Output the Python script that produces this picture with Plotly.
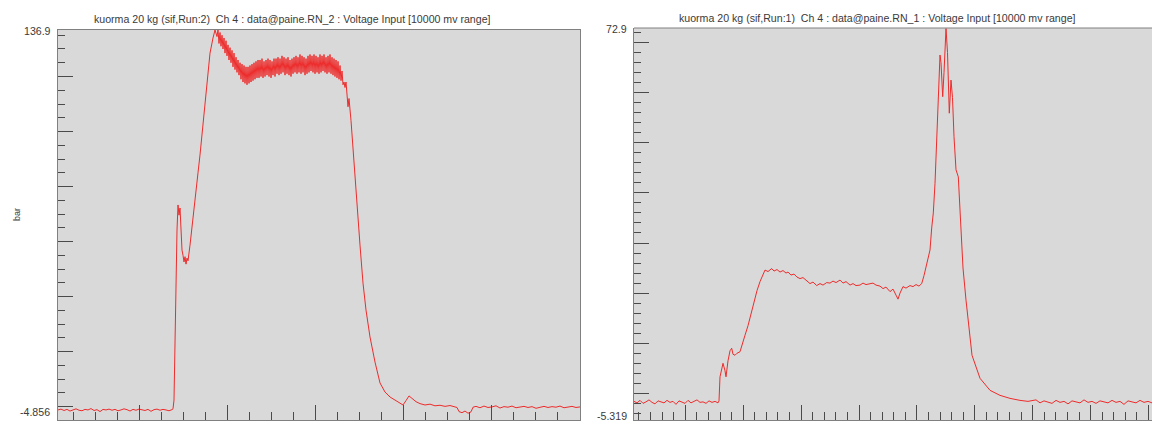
import plotly.graph_objects as go

# ---------------- data: left panel (Run 2), x in samples, y in bar ----------------
left_t = ([0, 3, 6, 9, 12, 15, 18, 21, 24, 27, 30, 33, 36, 39, 42, 45, 48, 51, 54, 57,
           60, 63, 66, 69, 72, 75, 78, 81, 84, 87, 90, 93, 96, 99, 102, 105, 108, 111, 114]
          + [115, 116, 117, 118, 119, 120, 121, 122, 123, 124, 125, 126, 127, 128, 129, 130,
             132, 135, 138, 140, 142, 144, 147, 150, 152, 155, 157, 159]
          + [160, 161, 162, 163, 164, 165, 166, 167, 168, 169, 170, 171, 172, 173, 174, 175,
             176, 177, 178, 179, 180, 181, 182, 183, 184, 185, 186, 187, 188, 189, 190, 191,
             192, 193, 194, 195, 196, 197, 198, 199, 200, 201, 202, 203, 204, 205, 206, 207,
             208, 209, 210, 211, 212, 213, 214, 215, 216, 217, 218, 219, 220, 221, 222, 223,
             224, 225, 226, 227, 228, 229, 230, 231, 232, 233, 234, 235, 236, 237, 238, 239,
             240, 241, 242, 243, 244, 245, 246, 247, 248, 249, 250, 251, 252, 253, 254, 255,
             256, 257, 258, 259, 260, 261, 262, 263, 264, 265, 266, 267, 268, 269, 270, 271,
             272, 273, 274, 275, 276, 277, 278, 279, 280, 281, 282, 283, 284, 285, 286]
          + [287, 288, 290, 291, 293, 295, 298, 300, 302, 305, 308, 312, 317, 322, 327, 332,
             337, 342, 345, 348, 351, 354, 358, 362, 367, 372, 377, 382, 387, 392, 397, 399,
             401, 404, 407, 410, 413, 415, 418]
          + [422, 426, 430, 434, 438, 442, 446, 450, 454, 458, 462, 466, 470, 474, 478, 482,
             486, 490, 494, 498, 502, 506, 510, 514, 518, 522])
left_v = ([-1.2, -0.9, -1.4, -1.0, -1.6, -1.1, -0.8, -1.3, -1.5, -1.0, -1.2, -0.7, -1.4,
           -1.1, -1.8, -1.0, -1.2, -0.9, -1.3, -1.0, -1.5, -1.2, -0.8, -1.1, -1.6, -1.0,
           -1.3, -0.9, -1.2, -1.4, -1.0, -1.7, -1.1, -0.9, -1.3, -1.0, -1.2, -1.5, -1.1]
          + [-0.8, 2.4, 27.8, 49.7, 64.2, 73.3, 69.6, 72.2, 64.2, 56.9, 55.0, 52.6, 54.5,
             51.8, 54.0, 53.0, 58.7, 67.8, 78.7, 85.0, 91.5, 99.0, 112.5, 122.0, 128.5,
             134.0, 136.9, 134.5]
          + [137.0, 132.0, 136.0, 131.0, 135.0, 130.0, 134.0, 128.5, 133.0, 127.5, 131.5,
             126.0, 130.5, 125.0, 129.5, 123.5, 128.5, 122.5, 127.0, 121.5, 126.0, 120.5,
             125.0, 119.0, 124.5, 118.0, 124.0, 117.5, 123.5, 117.0, 123.5, 117.5, 124.0,
             118.0, 124.5, 118.5, 125.0, 119.0, 125.5, 119.5, 126.0, 119.5, 126.0, 120.0,
             126.5, 119.5, 125.5, 120.0, 126.0, 120.5, 126.5, 120.0, 126.0, 119.5, 125.5,
             120.5, 126.5, 120.0, 126.5, 121.0, 127.0, 120.5, 126.5, 121.0, 127.5, 121.5,
             127.0, 120.5, 126.5, 121.0, 127.0, 120.5, 126.0, 120.0, 126.5, 121.0, 127.0,
             121.5, 127.5, 121.0, 127.0, 121.5, 128.0, 121.0, 127.5, 121.5, 127.0, 120.5,
             126.5, 121.0, 127.5, 121.5, 128.0, 122.0, 127.5, 121.5, 128.0, 121.0, 127.5,
             121.5, 127.0, 121.0, 128.0, 121.5, 127.5, 122.0, 128.0, 121.5, 127.0, 121.0,
             127.5, 121.5, 128.0, 121.0, 127.0, 120.5, 126.5, 120.0, 126.0, 119.5, 125.5,
             119.0, 124.0, 118.5, 122.0, 117.0, 118.0]
          + [116.0, 118.0, 109.0, 112.0, 104.0, 93.3, 78.7, 68.9, 58.7, 44.9, 35.1, 25.3,
             16.2, 8.6, 5.3, 3.5, 2.4, 1.3, 0.6, 2.2, 3.9, 3.0, 1.8, 1.1, 0.6, 0.9, 0.3,
             0.5, 0.1, 0.4, 0.0, -0.3, -1.8, -2.2, -1.6, -2.4, -1.9, -0.2, 0.1]
          + [-0.4, 0.2, -0.3, -0.1, 0.3, -0.5, 0.0, -0.2, 0.2, -0.4, -0.1, 0.1, -0.3, 0.0,
             -0.6, -0.2, 0.1, -0.3, 0.0, -0.2, 0.2, -0.4, -0.1, 0.1, -0.3, -0.1])

# ---------------- data: right panel (Run 1) ----------------
right_t = [0, 3, 6, 9, 12, 15, 18, 21, 24, 27, 30, 33, 36, 39, 42, 45, 48, 51, 54, 57,
           60, 63, 66, 69, 72, 75, 78, 81, 84,
           85, 86, 88, 89, 91, 92, 94, 96, 97.7, 99, 101, 103, 106, 108, 111, 114, 116, 118,
           121, 123, 126, 128, 131, 134, 137.7, 140, 143, 146, 149, 152, 154, 157, 160, 163,
           166, 169, 172, 176, 179, 182.7, 186, 189, 192.7, 196, 199, 202, 206, 209, 212,
           216, 219, 222, 226, 229, 232, 236, 239, 242, 246, 249, 252, 256, 259, 262, 264,
           266, 269, 272, 276, 279, 282, 285, 287.7, 290, 292.7, 296, 297.7, 299.3, 301,
           303.3, 304.5, 306, 307, 308.7, 310, 312, 313.5, 315.3, 317, 318.5, 320, 322,
           324.3, 326.7, 329, 332, 338, 346, 356, 366, 376, 386, 394, 402, 406, 410, 414,
           418, 422, 426, 430, 434, 438, 442, 446, 450, 454, 458, 462, 466, 470, 474, 478,
           482, 486, 490, 494, 498, 502, 506, 510, 514, 518]
right_v = [-1.6, -1.9, -1.4, -2.0, -1.7, -1.3, -1.8, -2.1, -1.5, -1.7, -1.9, -1.4, -1.8,
           -1.6, -2.2, -1.5, -1.7, -2.0, -1.4, -1.9, -1.6, -1.3, -1.8, -1.7, -2.0, -1.5,
           -1.8, -1.6, -1.9,
           -1.5, 3.3, 5.0, 6.0, 4.5, 3.3, 6.5, 8.5, 9.0, 7.8, 7.6, 8.0, 8.3, 9.8, 11.6, 13.5,
           15.0, 16.5, 19.3, 20.5, 22.3, 23.3, 24.6, 24.3, 24.9, 24.4, 24.7, 24.2, 24.5,
           24.0, 24.2, 23.6, 23.8, 23.2, 22.9, 23.1, 22.5, 21.9, 22.2, 21.5, 21.9, 21.6,
           22.1, 22.0, 22.4, 22.1, 22.6, 22.0, 22.3, 21.6, 21.9, 21.5, 21.6, 22.0, 21.7,
           21.9, 22.0, 21.6, 21.4, 20.9, 21.2, 20.3, 20.8, 19.6, 18.8, 20.0, 21.3, 21.0,
           21.5, 21.3, 21.7, 21.4, 21.9, 23.5, 25.9, 28.6, 33.0, 36.0, 41.9, 54.5, 62.0,
           67.5, 66.0, 59.2, 64.0, 72.8, 68.0, 55.9, 62.5, 59.0, 51.2, 44.6, 43.2, 34.6,
           25.0, 18.6, 7.6, 3.0, 0.6, -0.4, -1.0, -1.4, -1.6, -1.3, -1.9, -1.5, -1.7, -2.0,
           -1.4, -1.8, -1.6, -2.1, -1.5, -1.7, -1.9, -1.3, -1.8, -1.6, -2.0, -1.5, -1.7,
           -1.9, -1.4, -1.8, -1.6, -2.2, -1.5, -1.7, -1.9, -1.4, -1.8, -1.6, -1.9, -1.5]

left_range = [-4.856, 136.9]
right_range = [-5.319, 72.9]
left_title = "kuorma 20 kg (sif,Run:2)  Ch 4 : data@paine.RN_2 : Voltage Input [10000 mv range]"
right_title = "kuorma 20 kg (sif,Run:1)  Ch 4 : data@paine.RN_1 : Voltage Input [10000 mv range]"
y_unit = "bar"

W, H = 1152, 423
FONT = "Liberation Sans, Arial, sans-serif"
TXT = "#3a3a3a"
FRAME = "#808080"
TICK = "#4a4a4a"
BG = "#d9d9d9"
RED = "#ee2b2b"

def px(x):
    return x / W

def py(y):
    return (H - y) / H

fig = go.Figure()
fig.add_trace(go.Scatter(x=left_t, y=left_v, mode="lines",
                         line=dict(color=RED, width=1), xaxis="x", yaxis="y",
                         showlegend=False, hoverinfo="skip"))
fig.add_trace(go.Scatter(x=right_t, y=right_v, mode="lines",
                         line=dict(color=RED, width=1), xaxis="x2", yaxis="y2",
                         showlegend=False, hoverinfo="skip"))

def xax(domain, rng, t0, major, minor, mirror, anchor):
    return dict(domain=domain, range=rng, anchor=anchor, showgrid=False, zeroline=False,
                showticklabels=False, showline=True, linecolor=FRAME, linewidth=1,
                mirror=mirror, ticks="inside", tick0=t0, dtick=major, ticklen=15,
                tickcolor=TICK, tickwidth=1,
                minor=dict(ticks="inside", tick0=t0, dtick=minor, ticklen=8,
                           tickcolor=TICK, tickwidth=1, showgrid=False),
                fixedrange=True)

def yax(domain, rng, major, minor, anchor, mirror):
    return dict(domain=domain, range=rng, anchor=anchor, showgrid=False, zeroline=False,
                showticklabels=False, showline=True, linecolor=FRAME, linewidth=1,
                mirror=mirror, ticks="inside", tick0=0, dtick=major, ticklen=15,
                tickcolor=TICK, tickwidth=1,
                minor=dict(ticks="inside", tick0=0, dtick=minor, ticklen=7,
                           tickcolor=TICK, tickwidth=1, showgrid=False),
                fixedrange=True)

fig.update_layout(
    width=W, height=H,
    margin=dict(l=0, r=0, t=0, b=0),
    paper_bgcolor="white", plot_bgcolor=BG,
    xaxis=xax([px(58), px(580)], [0, 522], 81, 88, 22, True, "y"),
    yaxis=yax([py(420), py(30)], left_range, 20, 5, "x", True),
    xaxis2=xax([px(634), 1.0], [0, 518], 51.3, 57.9, 11.58, False, "y2"),
    yaxis2=yax([py(420), py(28)], right_range, 10, 2, "x2", False),
)

# top border of right panel (its right side is cut off by the window)
fig.add_shape(type="line", xref="x2 domain", yref="y2 domain", x0=0, x1=1, y0=1, y1=1,
              line=dict(color=FRAME, width=1))

ann = []
def txt(x, y, s, xanchor="center", angle=0, size=10.6):
    ann.append(dict(x=px(x), y=py(y), xref="paper", yref="paper", text=s, showarrow=False,
                    xanchor=xanchor, yanchor="middle", textangle=angle,
                    font=dict(family=FONT, size=size, color=TXT)))

txt(292, 19, left_title)
txt(877, 18, right_title)
txt(53, 31, f"{left_range[1]:.1f}", "right")
txt(52, 412, f"{left_range[0]:.3f}", "right")
txt(629, 29, f"{right_range[1]:.1f}", "right")
txt(629, 416, f"{right_range[0]:.3f}", "right")
txt(17, 215, y_unit, angle=-90, size=9)
fig.update_layout(annotations=ann)

fig.write_html("out.html", config={"displayModeBar": False},
               post_script="document.body.style.margin='0px';")
